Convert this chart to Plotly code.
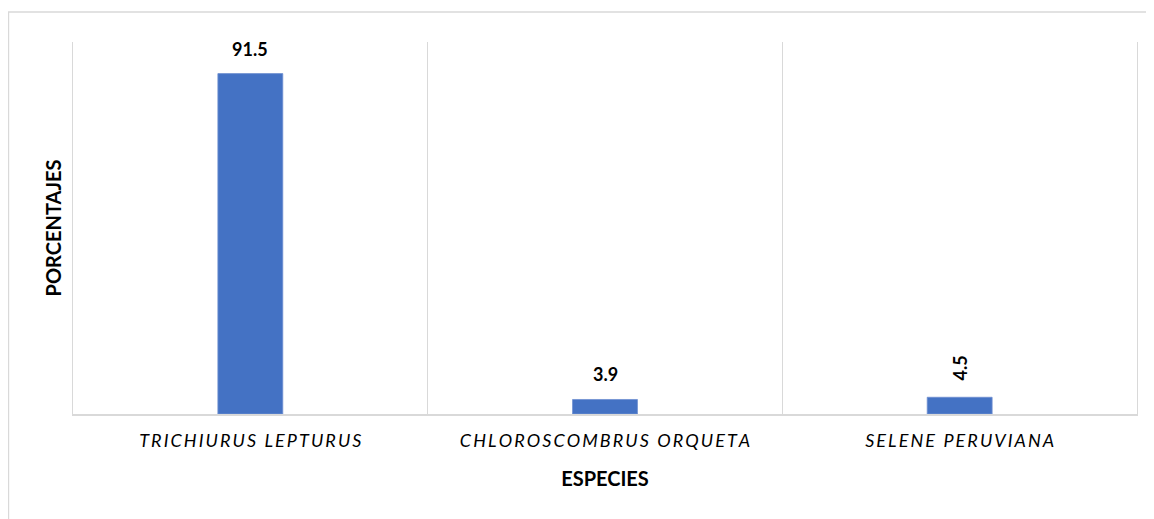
import plotly.graph_objects as go

especies = ['Trichiurus lepturus', 'Chloroscombrus orqueta', 'Selene peruviana']
porcentajes = [91.5, 3.9, 4.5]
label_angles = [0, 0, -90]

THIN = '\u2009'


def spaced(name):
    # Excel-style tracked caps for the category labels
    return THIN.join(name.upper())


fig = go.Figure(
    go.Bar(
        x=especies,
        y=porcentajes,
        marker=dict(color='#4472c4', line=dict(color='#6f8fd1', width=0.8)),
        hovertemplate='%{x}: %{y}<extra></extra>',
    )
)

for name, val, ang in zip(especies, porcentajes, label_angles):
    fig.add_annotation(
        x=name, y=val, text='<b>%.1f</b>' % val, showarrow=False,
        textangle=ang, yanchor='bottom', yshift=12 if ang == 0 else 15,
        font=dict(family='Lato', size=18, color='#000000'),
    )

# outer chart border (runs off the right and bottom edges like the source)
fig.add_shape(type='rect', xref='paper', yref='paper',
              x0=-64.5 / 1064, x1=1.05, y0=-0.4, y1=1 + 30 / 372,
              line=dict(color='#d9d9d9', width=1.4), layer='below')

# page body has an 8px margin, so the figure is a bit smaller than the window
fig.update_layout(
    width=1146, height=511,
    margin=dict(l=65, r=17, t=34, b=105),
    paper_bgcolor='white', plot_bgcolor='white',
    bargap=0.817,
    showlegend=False,
    font=dict(family='Lato', color='#000000'),
    xaxis=dict(
        tickmode='array', tickvals=especies,
        ticktext=[spaced(e) for e in especies],
        tickfont=dict(family='Lato', size=18, style='italic', color='#000000'),
        ticklabelstandoff=10,
        tickson='boundaries', ticks='', showgrid=True,
        gridcolor='#d9d9d9', gridwidth=1.2,
        showline=True, linecolor='#d9d9d9', linewidth=1.5,
        title=dict(text='<b>ESPECIES</b>', font=dict(family='Lato', size=20), standoff=22),
        range=[-0.5, 2.5],
    ),
    yaxis=dict(
        range=[0, 100], showticklabels=False, showgrid=False, zeroline=False,
        showline=True, mirror=True, linecolor='#d9d9d9', linewidth=1.2, ticks='',
        title=dict(text='<b>PORCENTAJES</b>', font=dict(family='Lato', size=20), standoff=4),
    ),
)

fig.write_html('out.html')
